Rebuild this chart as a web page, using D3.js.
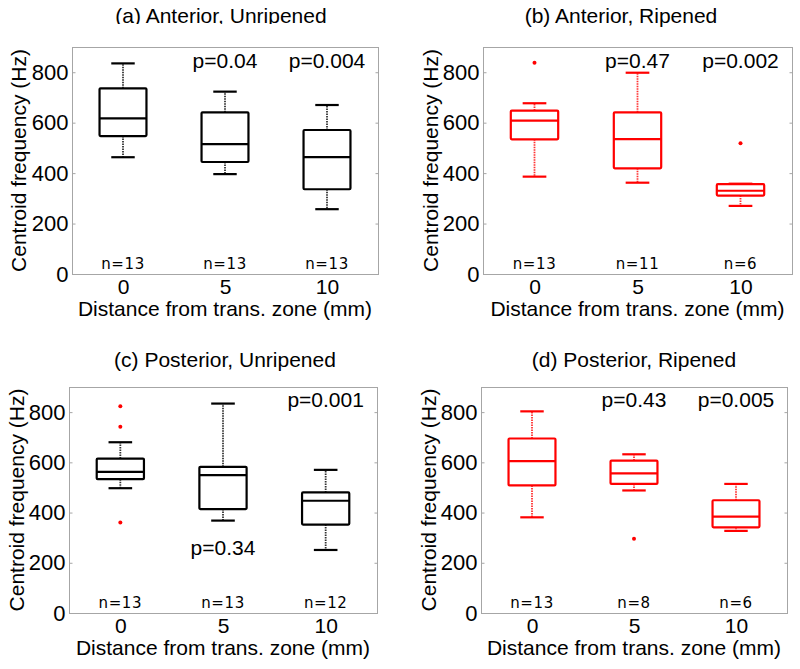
<!DOCTYPE html>
<html>
<head>
<meta charset="utf-8">
<script src="https://cdn.jsdelivr.net/npm/d3@7"></script>
<style>
  html, body { margin: 0; padding: 0; background: #fff; }
  svg { display: block; }
</style>
</head>
<body>
<svg id="chart" width="800" height="669"></svg>
<script>
// ---------------- DATA ----------------
const categories = ["0", "5", "10"];
const yTicks = [0, 200, 400, 600, 800];
const yMax = 900;
const xLabel = "Distance from trans. zone (mm)";
const yLabel = "Centroid frequency (Hz)";

const titles = ["(a) Anterior, Unripened", "(b) Anterior, Ripened",
                "(c) Posterior, Unripened", "(d) Posterior, Ripened"];

// box statistics for each panel: [0 mm, 5 mm, 10 mm]
const aLow = [463, 396, 257], aQ1 = [547, 444, 336], aMed = [617, 515, 463], aQ3 = [736, 641, 571], aHigh = [835, 723, 670];
const aOut = [[], [], []];
const aN = ["n=13", "n=13", "n=13"];
const aP = ["", "p=0.04", "p=0.004"];

const bLow = [386, 362, 270], bQ1 = [534, 419, 311], bMed = [608, 535, 330], bQ3 = [648, 641, 356], bHigh = [677, 798, 358];
const bOut = [[838], [], [518]];
const bN = ["n=13", "n=11", "n=6"];
const bP = ["", "p=0.47", "p=0.002"];

const cLow = [497, 368, 251], cQ1 = [533, 414, 352], cMed = [562, 549, 447], cQ3 = [615, 582, 480], cHigh = [680, 834, 570];
const cOut = [[823, 742, 360], [], []];
const cN = ["n=13", "n=13", "n=12"];
const cP = ["", "p=0.34", "p=0.001"];

const dLow = [381, 488, 327], dQ1 = [508, 514, 341], dMed = [605, 556, 384], dQ3 = [695, 607, 449], dHigh = [803, 632, 514];
const dOut = [[], [296], []];
const dN = ["n=13", "n=8", "n=6"];
const dP = ["", "p=0.43", "p=0.005"];

// ---------------- LAYOUT ----------------
const SANS = "'Liberation Sans', Arial, Helvetica, sans-serif";
const NFONT = "'DejaVu Sans', Verdana, sans-serif";

const panels = [
  { title: titles[0], color: "#000", low: aLow, q1: aQ1, med: aMed, q3: aQ3, high: aHigh, out: aOut, n: aN, p: aP, pY: [0, 817, 817],
    frame: { l: 72, t: 47, r: 378, b: 274 }, titleX: 221, titleY: 23, ylabX: 26, clipTitle: true },
  { title: titles[1], color: "#ff0000", low: bLow, q1: bQ1, med: bMed, q3: bQ3, high: bHigh, out: bOut, n: bN, p: bP, pY: [0, 817, 817],
    frame: { l: 483, t: 47, r: 792, b: 274 }, titleX: 621, titleY: 23, ylabX: 438 },
  { title: titles[2], color: "#000", low: cLow, q1: cQ1, med: cMed, q3: cQ3, high: cHigh, out: cOut, n: cN, p: cP, pY: [0, 232, 820],
    frame: { l: 69, t: 387, r: 377, b: 613 }, titleX: 225, titleY: 367, ylabX: 24 },
  { title: titles[3], color: "#ff0000", low: dLow, q1: dQ1, med: dMed, q3: dQ3, high: dHigh, out: dOut, n: dN, p: dP, pY: [0, 820, 820],
    frame: { l: 481, t: 387, r: 787, b: 613 }, titleX: 634, titleY: 367, ylabX: 436 }
];

const svg = d3.select("#chart");
const defs = svg.append("defs");
defs.append("clipPath").attr("id", "titleClip")
  .append("rect").attr("x", 0).attr("y", 0).attr("width", 400).attr("height", 24);

panels.forEach((P, pi) => {
  const f = P.frame;
  const x = d3.scalePoint().domain(categories).range([f.l, f.r]).padding(0.5);
  const y = d3.scaleLinear().domain([0, yMax]).range([f.b, f.t]);
  const step = x.step();
  const boxW = step * 0.46;
  const capW = step * 0.23;
  const g = svg.append("g");

  // frame
  g.append("rect")
    .attr("x", f.l + 0.5).attr("y", f.t + 0.5)
    .attr("width", f.r - f.l).attr("height", f.b - f.t)
    .attr("fill", "none").attr("stroke", "#a6a6a6").attr("stroke-width", 1);

  // left axis (ticks inward) + labels
  const yAxisL = d3.axisLeft(y).tickValues(yTicks).tickSize(-3).tickPadding(4).tickFormat(d3.format("d"));
  const gl = g.append("g").attr("transform", `translate(${f.l + 0.5},0)`).call(yAxisL);
  gl.select(".domain").remove();
  gl.selectAll(".tick line").attr("stroke", "#a6a6a6");
  gl.selectAll(".tick text").style("font-size", "22px").style("font-family", SANS).attr("fill", "#000");

  // right ticks inward
  const yAxisR = d3.axisRight(y).tickValues(yTicks).tickSize(-3).tickFormat("");
  const gr = g.append("g").attr("transform", `translate(${f.r + 0.5},0)`).call(yAxisR);
  gr.select(".domain").remove();
  gr.selectAll(".tick line").attr("stroke", "#a6a6a6");

  // x axis labels
  const xAxis = d3.axisBottom(x).tickSize(0).tickPadding(5);
  const gx = g.append("g").attr("transform", `translate(0,${f.b})`).call(xAxis);
  gx.select(".domain").remove();
  gx.selectAll(".tick text").style("font-size", "21px").style("font-family", SANS).attr("fill", "#000");

  // axis titles
  g.append("text")
    .attr("x", (f.l + f.r) / 2).attr("y", f.b + 42)
    .attr("text-anchor", "middle").style("font-size", "21px").style("font-family", SANS).attr("fill", "#000")
    .text(xLabel);
  g.append("text")
    .attr("transform", `translate(${P.ylabX},${(f.t + f.b) / 2}) rotate(-90)`)
    .attr("text-anchor", "middle").style("font-size", "21px").style("font-family", SANS).attr("fill", "#000")
    .text(yLabel);

  // panel title
  const t = g.append("text")
    .attr("x", P.titleX).attr("y", P.titleY)
    .attr("text-anchor", "middle").style("font-size", "21px").style("font-family", SANS).attr("fill", "#000")
    .text(P.title);
  if (P.clipTitle) t.attr("clip-path", "url(#titleClip)");

  // boxes
  categories.forEach((c, i) => {
    const cx = x(c);
    const bg = g.append("g");
    // whiskers (dashed)
    bg.append("line").attr("x1", cx).attr("x2", cx)
      .attr("y1", y(P.q3[i])).attr("y2", y(P.high[i]))
      .attr("stroke", P.color).attr("stroke-width", 1.8).attr("stroke-dasharray", "1.5,1").attr("opacity", 0.8);
    bg.append("line").attr("x1", cx).attr("x2", cx)
      .attr("y1", y(P.q1[i])).attr("y2", y(P.low[i]))
      .attr("stroke", P.color).attr("stroke-width", 1.8).attr("stroke-dasharray", "1.5,1").attr("opacity", 0.8);
    // caps
    [P.high[i], P.low[i]].forEach(v => {
      bg.append("line").attr("x1", cx - capW / 2).attr("x2", cx + capW / 2)
        .attr("y1", y(v)).attr("y2", y(v))
        .attr("stroke", P.color).attr("stroke-width", 2.2);
    });
    // box
    bg.append("rect")
      .attr("x", cx - boxW / 2).attr("y", y(P.q3[i]))
      .attr("width", boxW).attr("height", y(P.q1[i]) - y(P.q3[i]))
      .attr("fill", "none").attr("stroke", P.color).attr("stroke-width", 2.2)
      .attr("rx", 1);
    // median
    bg.append("line").attr("x1", cx - boxW / 2).attr("x2", cx + boxW / 2)
      .attr("y1", y(P.med[i])).attr("y2", y(P.med[i]))
      .attr("stroke", P.color).attr("stroke-width", 2.2);
    // outliers
    bg.selectAll("circle.out").data(P.out[i]).enter().append("circle")
      .attr("class", "out")
      .attr("cx", cx).attr("cy", d => y(d)).attr("r", 2)
      .attr("fill", "#ff0000");
    // n labels
    g.append("text")
      .attr("x", cx).attr("y", f.b - 5)
      .attr("text-anchor", "middle").style("font-size", "15px").style("font-family", NFONT)
      .style("letter-spacing", "0.6px")
      .attr("fill", "#000")
      .text(P.n[i]);
    // p labels
    if (P.p[i]) {
      g.append("text")
        .attr("x", cx).attr("y", y(P.pY[i]))
        .attr("text-anchor", "middle").style("font-size", "21px").style("font-family", SANS).attr("fill", "#000")
        .text(P.p[i]);
    }
  });
});
</script>
</body>
</html>
